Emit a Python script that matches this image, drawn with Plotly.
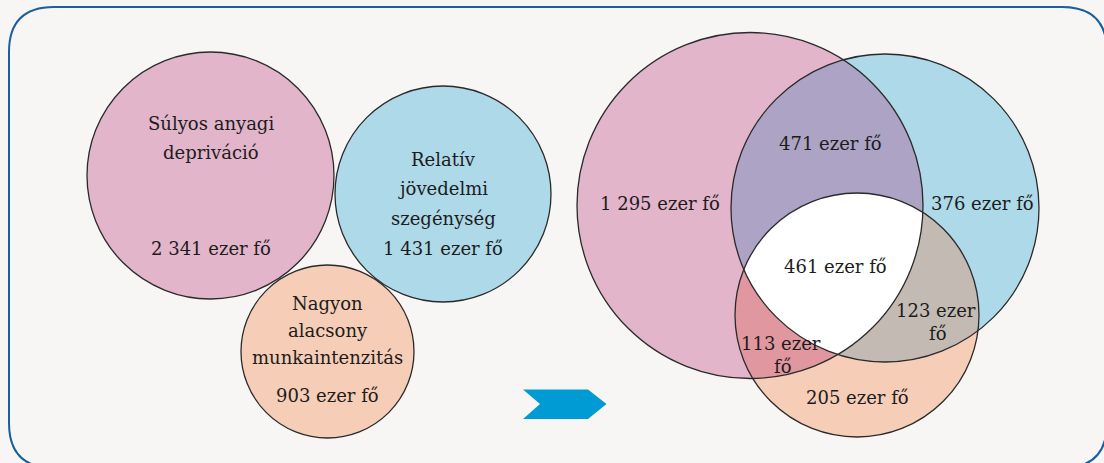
import numpy as np
import plotly.graph_objects as go

W, H = 1104, 463

# ---------------- data ----------------
set_titles = [["Súlyos anyagi", "depriváció"],
              ["Relatív", "jövedelmi", "szegénység"],
              ["Nagyon", "alacsony", "munkaintenzitás"]]
set_totals = [2341, 1431, 903]

region_keys = ["A", "B", "C", "AB", "AC", "BC", "ABC"]
region_values = [1295, 376, 205, 471, 113, 123, 461]
region_wrap = [False, False, False, False, True, True, False]

UNIT = "ezer fő"


def fmt(v):
    return f"{v:,}".replace(",", " ") + " " + UNIT


# ---------------- layout geometry ----------------
left_circles = [(210.5, 175.5, 123.5), (443.0, 194.0, 108.0), (327.5, 351.5, 86.5)]
right_circles = [(750.0, 205.5, 173.0), (885.0, 208.0, 154.0), (857.0, 315.0, 122.0)]

set_colors = ["#e2b5ca", "#add9e9", "#f6cdb7"]
pair_colors = {"AB": "#aca3c5", "AC": "#e0979f", "BC": "#c3bbb3", "ABC": "#ffffff"}
BG = "#f7f6f4"
LINE = "#2a2a2a"
TXT = "#1c1c1c"
FONT = "DejaVu Serif"
FS = 18

left_title_y = [[123, 152], [159, 188, 218], [303, 330, 357]]
left_total_y = [248, 248, 395]

region_pos = {"A": (660, 203), "B": (982, 203), "C": (857, 397), "AB": (830, 143),
              "AC": (781, 343), "BC": (936, 310), "ABC": (835, 266)}
wrap_gap = 23


def circle_pts(c, n=720):
    t = np.linspace(0, 2 * np.pi, n, endpoint=False)
    return c[0] + c[2] * np.cos(t), c[1] + c[2] * np.sin(t)


def inside(x, y, c, tol=1e-6):
    return (x - c[0]) ** 2 + (y - c[1]) ** 2 <= c[2] ** 2 * (1 + tol)


def intersection_poly(circles):
    xs, ys = [], []
    for i, c in enumerate(circles):
        px, py = circle_pts(c, 1440)
        m = np.ones_like(px, dtype=bool)
        for j, d in enumerate(circles):
            if j != i:
                m &= inside(px, py, d)
        xs.append(px[m]); ys.append(py[m])
    xs = np.concatenate(xs); ys = np.concatenate(ys)
    cx, cy = xs.mean(), ys.mean()
    order = np.argsort(np.arctan2(ys - cy, xs - cx))
    xs, ys = xs[order], ys[order]
    return np.append(xs, xs[0]), np.append(ys, ys[0])


fig = go.Figure()


def add_fill(x, y, color):
    fig.add_trace(go.Scatter(x=x, y=y, mode="lines", fill="toself", fillcolor=color,
                             line=dict(width=0, color=color), hoverinfo="skip",
                             showlegend=False))


# base circles
for circles in (left_circles, right_circles):
    for c, col in zip(circles, set_colors):
        px, py = circle_pts(c)
        add_fill(np.append(px, px[0]), np.append(py, py[0]), col)

# overlaps on the right
A, B, C = right_circles
for key, cs in (("AB", [A, B]), ("AC", [A, C]), ("BC", [B, C]), ("ABC", [A, B, C])):
    x, y = intersection_poly(cs)
    add_fill(x, y, pair_colors[key])

shapes = []
# frame
r = 45
x0, y0, x1, y1 = 9, 7, 1107, 468
frame = (f"M {x0+r},{y0} L {x1-r},{y0} Q {x1},{y0} {x1},{y0+r} L {x1},{y1-r} "
         f"Q {x1},{y1} {x1-r},{y1} L {x0+r},{y1} Q {x0},{y1} {x0},{y1-r} "
         f"L {x0},{y0+r} Q {x0},{y0} {x0+r},{y0} Z")
shapes.append(dict(type="path", path=frame, xref="x", yref="y", layer="below",
                   line=dict(color="#1a5f9e", width=2)))
# arrow
shapes.append(dict(type="path", xref="x", yref="y", layer="above",
                   path="M 523,389.5 L 588,389.5 L 606.5,404 L 588,419 L 523,419 L 540,404 Z",
                   fillcolor="#009bd4", line=dict(width=0)))
# outlines
for c in left_circles + right_circles:
    shapes.append(dict(type="circle", xref="x", yref="y", x0=c[0] - c[2], x1=c[0] + c[2],
                       y0=c[1] - c[2], y1=c[1] + c[2], line=dict(color=LINE, width=1.3),
                       layer="above"))

ann = []


def add_text(x, y, s):
    ann.append(dict(x=x, y=y, text=s, showarrow=False, xref="x", yref="y",
                    xanchor="center", yanchor="middle",
                    font=dict(family=FONT, size=FS, color=TXT)))


for c, title, ty, tot, toty in zip(left_circles, set_titles, left_title_y, set_totals, left_total_y):
    for line, yy in zip(title, ty):
        add_text(c[0], yy, line)
    add_text(c[0], toty, fmt(tot))

for key, val, wrap in zip(region_keys, region_values, region_wrap):
    x, y = region_pos[key]
    s = fmt(val)
    if wrap:
        a, b = s.rsplit(" ", 1)
        add_text(x, y, a)
        add_text(x + 2, y + wrap_gap, b)
    else:
        add_text(x, y, s)

fig.update_layout(width=W, height=H, margin=dict(l=0, r=0, t=0, b=0),
                  paper_bgcolor=BG, plot_bgcolor=BG, shapes=shapes, annotations=ann,
                  font=dict(family=FONT),
                  xaxis=dict(range=[0, W], visible=False, fixedrange=True),
                  yaxis=dict(range=[H, 0], visible=False, fixedrange=True),
                  showlegend=False)

fig.write_html("out.html", config={"displayModeBar": False})

# remove the browser's default page margin so the figure sits at (0, 0)
with open("out.html", encoding="utf-8") as f:
    html = f.read()
html = html.replace("<head>", "<head><style>html,body{margin:0;padding:0;overflow:hidden;"
                    "background:%s;}</style>" % BG, 1)
with open("out.html", "w", encoding="utf-8") as f:
    f.write(html)
